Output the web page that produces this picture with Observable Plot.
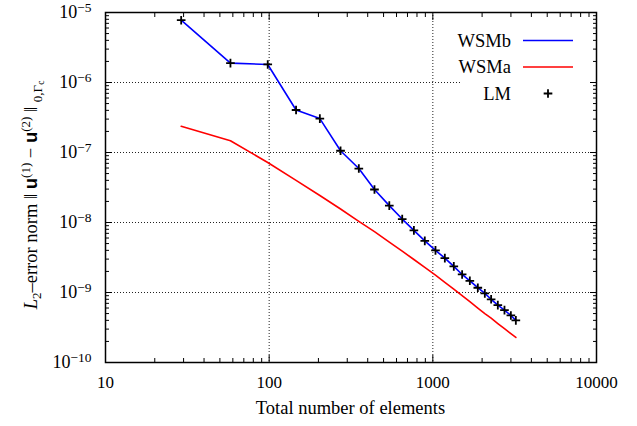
<!DOCTYPE html>
<html><head><meta charset="utf-8">
<script src="https://cdn.jsdelivr.net/npm/d3@7"></script>
<script src="https://cdn.jsdelivr.net/npm/@observablehq/plot@0.6"></script>
<style>html,body{margin:0;padding:0;background:#fff}svg{display:block}</style>
</head><body><div id="chart"></div>
<script>
// ---- data ----
const elements = [29, 58, 98, 146, 204, 273, 353, 440, 542, 650, 766, 893, 1038, 1184, 1343, 1510, 1683, 1883, 2078, 2271, 2495, 2740, 2997, 3215];
const wsmb = [7.76e-6, 1.89e-6, 1.81e-6, 4.05e-7, 3.05e-7, 1.06e-7, 5.9e-8, 2.96e-8, 1.74e-8, 1.12e-8, 7.7e-9, 5.46e-9, 4.0e-9, 3.1e-9, 2.36e-9, 1.81e-9, 1.47e-9, 1.17e-9, 9.7e-10, 8.0e-10, 6.6e-10, 5.6e-10, 4.7e-10, 4.0e-10];
const wsma = [2.37e-7, 1.47e-7, 7.2e-8, 4.0e-8, 2.43e-8, 1.56e-8, 1.04e-8, 7.4e-9, 5.25e-9, 3.9e-9, 2.96e-9, 2.29e-9, 1.77e-9, 1.40e-9, 1.12e-9, 9.0e-10, 7.4e-10, 6.0e-10, 5.0e-10, 4.3e-10, 3.6e-10, 3.04e-10, 2.58e-10, 2.28e-10];
const lm = [7.76e-6, 1.89e-6, 1.81e-6, 4.05e-7, 3.05e-7, 1.06e-7, 5.9e-8, 2.96e-8, 1.74e-8, 1.12e-8, 7.7e-9, 5.46e-9, 4.0e-9, 3.1e-9, 2.36e-9, 1.81e-9, 1.47e-9, 1.17e-9, 9.7e-10, 8.0e-10, 6.6e-10, 5.6e-10, 4.7e-10, 4.0e-10];

const xTicks = [10, 100, 1000, 10000];
const xTickLabels = ["10", "100", "1000", "10000"];
const yTicks = [1e-10, 1e-9, 1e-8, 1e-7, 1e-6, 1e-5];
const yTickExponents = ["\u221210", "\u22129", "\u22128", "\u22127", "\u22126", "\u22125"];
const seriesNames = ["WSMb", "WSMa", "LM"];
const seriesColors = ["#0000ff", "#ff0000", "#000000"];
const xTitle = "Total number of elements";

// ---- helpers ----
const minorOf = majors => majors.slice(0, -1).flatMap(m => d3.range(2, 10).map(k => k * m));
const xMinor = minorOf(xTicks), yMinor = minorOf(yTicks);
const rows = ys => elements.map((x, i) => ({x, y: ys[i]}));

const W = 637, H = 426, mL = 105, mR = 41, mT = 12, mB = 64;
const serif = "'Liberation Serif', 'Times New Roman', serif";
const gridStyle = {stroke: "#222", strokeOpacity: 1, strokeWidth: 1, strokeDasharray: "1,2"};
const noText = {tickFormat: () => "", label: null};
const plusR = 2.9;

const plot = Plot.plot({
  width: W, height: H,
  marginLeft: mL, marginRight: mR, marginTop: mT, marginBottom: mB,
  style: {fontFamily: serif, fontSize: "17px", background: "#fff", color: "#000", overflow: "visible"},
  x: {type: "log", domain: [xTicks[0], xTicks[xTicks.length - 1]]},
  y: {type: "log", domain: [yTicks[0], yTicks[yTicks.length - 1]]},
  marks: [
    Plot.gridX(xTicks.slice(1, -1), gridStyle),
    Plot.gridY(yTicks.slice(1, -1), gridStyle),
    Plot.axisX(xMinor, {anchor: "bottom", tickSize: -4, ...noText}),
    Plot.axisX(xMinor, {anchor: "top", tickSize: -4, ...noText}),
    Plot.axisX(xTicks, {anchor: "bottom", tickSize: -7, ...noText}),
    Plot.axisX(xTicks, {anchor: "top", tickSize: -7, ...noText}),
    Plot.axisY(yMinor, {anchor: "left", tickSize: -4, ...noText}),
    Plot.axisY(yMinor, {anchor: "right", tickSize: -4, ...noText}),
    Plot.axisY(yTicks, {anchor: "left", tickSize: -7, ...noText}),
    Plot.axisY(yTicks, {anchor: "right", tickSize: -7, ...noText}),
    Plot.axisX(xTicks, {anchor: "bottom", tickSize: 0, tickPadding: 13, label: null,
      tickFormat: d => xTickLabels[xTicks.indexOf(d)]}),
    Plot.axisY(yTicks, {anchor: "left", tickSize: 0, tickPadding: 14, label: null, fontSize: 18,
      tickFormat: d => "10^" + yTickExponents[yTicks.indexOf(d)]}),
    Plot.line(rows(wsma), {x: "x", y: "y", stroke: seriesColors[1], strokeWidth: 1.6}),
    Plot.line(rows(wsmb), {x: "x", y: "y", stroke: seriesColors[0], strokeWidth: 1.6}),
    Plot.dot(rows(lm), {x: "x", y: "y", symbol: "plus", r: plusR, stroke: seriesColors[2], strokeWidth: 1.8}),
    Plot.frame({stroke: "#000", strokeWidth: 1.5})
  ]
});

const svg = d3.select(plot);

// superscript exponents on the y tick labels
svg.selectAll('g[aria-label="y-axis tick label"] text').each(function () {
  const t = d3.select(this);
  const s = t.text();
  if (!s.includes("^")) return;
  const [base, exp] = s.split("^");
  t.text(base);
  t.append("tspan").attr("dy", "-0.5em").attr("font-size", "0.75em").text(exp);
});

// x axis title
svg.append("text")
  .attr("x", mL + (W - mL - mR) / 2).attr("y", 414)
  .attr("text-anchor", "middle").attr("font-family", serif).attr("font-size", 18.5)
  .text(xTitle);

// y axis title with math
const sans = "'Liberation Sans', Arial, sans-serif";
const yt = svg.append("text")
  .attr("transform", "translate(37,195) rotate(-90)")
  .attr("text-anchor", "middle").attr("font-family", serif).attr("font-size", 18.5);
yt.append("tspan").attr("font-style", "italic").text("L");
yt.append("tspan").attr("font-size", 13).attr("dy", 4).text("2");
yt.append("tspan").attr("dy", -4).text("\u2013error norm \u2016 ");
yt.append("tspan").attr("font-family", sans).attr("font-weight", "bold").text("u");
yt.append("tspan").attr("font-size", 13).attr("dy", -7).text("(1)");
yt.append("tspan").attr("dy", 7).text(" \u2212 ");
yt.append("tspan").attr("font-family", sans).attr("font-weight", "bold").text("u");
yt.append("tspan").attr("font-size", 13).attr("dy", -7).text("(2)");
yt.append("tspan").attr("dy", 7).text(" \u2016 ");
yt.append("tspan").attr("font-size", 13).attr("dy", 5).text("0,\u0393");
yt.append("tspan").attr("font-size", 9.5).attr("dy", 2).text("c");

// legend (key box, opaque like gnuplot's)
const lg = svg.append("g").attr("font-family", serif).attr("font-size", 18.5);
lg.append("rect").attr("x", 462).attr("y", 27).attr("width", 127).attr("height", 80).attr("fill", "#fff");
const rowY = [40.5, 67, 93.5];
seriesNames.forEach((name, i) => {
  lg.append("text").attr("x", 511).attr("y", rowY[i]).attr("dy", "0.35em")
    .attr("text-anchor", "end").text(name);
  if (i < 2) {
    lg.append("line").attr("x1", 523).attr("x2", 573).attr("y1", rowY[i]).attr("y2", rowY[i])
      .attr("stroke", seriesColors[i]).attr("stroke-width", 1.6);
  } else {
    lg.append("path").attr("transform", `translate(548,${rowY[i]})`)
      .attr("d", d3.symbol(d3.symbolPlus, plusR * plusR * Math.PI)())
      .attr("fill", "none").attr("stroke", seriesColors[i]).attr("stroke-width", 1.8);
  }
});

document.getElementById("chart").append(plot);
</script>
</body></html>
